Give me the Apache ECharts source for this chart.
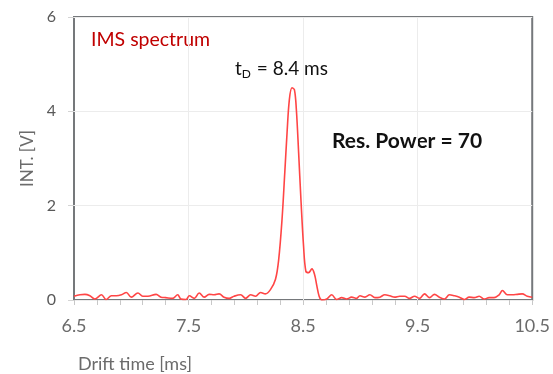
<!DOCTYPE html>
<html>
<head>
<meta charset="utf-8">
<script src="https://cdn.jsdelivr.net/npm/echarts@6/dist/echarts.min.js"></script>
<style>
  html, body { margin: 0; padding: 0; background: #fff; }
  #chart { width: 553px; height: 374px; }
</style>
</head>
<body>
<div id="chart"></div>
<script>
// drift time (ms) and intensity (V)
const driftTime = [
  6.50, 6.552, 6.595, 6.639, 6.682, 6.74, 6.78, 6.827, 6.87, 6.914,
  6.957, 7.00, 7.058, 7.10, 7.145, 7.217, 7.26, 7.30, 7.36, 7.405,
  7.434, 7.478, 7.507, 7.55, 7.593, 7.637, 7.68, 7.723, 7.767, 7.81,
  7.854, 7.897, 7.955, 7.998, 8.042, 8.085, 8.129, 8.17, 8.215, 8.259,
  8.287, 8.316, 8.34, 8.36, 8.38, 8.403, 8.424, 8.441, 8.461, 8.481,
  8.504, 8.524, 8.548, 8.577, 8.60, 8.62, 8.64, 8.663, 8.707, 8.75,
  8.793, 8.837, 8.88, 8.923, 8.967, 8.996, 9.04, 9.083, 9.127, 9.17,
  9.213, 9.257, 9.30, 9.343, 9.387, 9.43, 9.473, 9.517, 9.56, 9.604,
  9.647, 9.69, 9.734, 9.777, 9.82, 9.864, 9.907, 9.95, 9.994, 10.037,
  10.08, 10.124, 10.167, 10.211, 10.24, 10.283, 10.327, 10.37, 10.413, 10.457,
  10.50
];
const intensity = [
  0.08, 0.11, 0.12, 0.09, 0.02, 0.11, 0.01, 0.09, 0.09, 0.11,
  0.16, 0.06, 0.15, 0.08, 0.08, 0.12, 0.06, 0.05, 0.035, 0.11,
  0.02, 0.01, 0.09, 0.035, 0.15, 0.06, 0.12, 0.11, 0.13, 0.06,
  0.035, 0.08, 0.11, 0.035, 0.11, 0.08, 0.16, 0.13, 0.22, 0.44,
  0.86, 1.71, 2.70, 3.55, 4.25, 4.50, 4.46, 4.04, 3.12, 2.13,
  1.14, 0.61, 0.58, 0.66, 0.54, 0.30, 0.08, 0.0, 0.02, 0.11,
  0.01, 0.05, 0.02, 0.06, 0.035, 0.09, 0.06, 0.11, 0.05, 0.06,
  0.11, 0.09, 0.06, 0.08, 0.08, 0.035, 0.08, 0.035, 0.13, 0.05,
  0.12, 0.06, 0.02, 0.11, 0.09, 0.06, 0.01, 0.06, 0.05, 0.08,
  0.02, 0.05, 0.05, 0.11, 0.20, 0.11, 0.11, 0.12, 0.13, 0.08,
  0.06
];

const xLabelValues = [6.5, 7.5, 8.5, 9.5, 10.5];
const xTickValues = [6.5, 6.7, 6.9, 7.1, 7.3, 7.5, 7.7, 7.9, 8.1, 8.3, 8.5,
  8.7, 8.9, 9.1, 9.3, 9.5, 9.7, 9.9, 10.1, 10.3, 10.5];
const xGridValues = [7.5, 8.5, 9.5];
const yTicks = [0, 2, 4, 6];

const FONT = 'Lato, "Open Sans", sans-serif';
const X_MIN = xLabelValues[0];
const X_MAX = xLabelValues[xLabelValues.length - 1];

const chart = echarts.init(document.getElementById('chart'), null, { renderer: 'canvas' });

const option = {
  animation: false,
  grid: {
    left: 74, right: 18, top: 17, bottom: 74,
    show: true,
    borderColor: '#75787b',
    borderWidth: 2,
    backgroundColor: 'transparent'
  },
  xAxis: [
    {
      type: 'value',
      min: X_MIN,
      max: X_MAX,
      axisLine: { show: false },
      axisTick: {
        show: true,
        length: 5,
        customValues: xTickValues,
        lineStyle: { color: '#c8c8c8', width: 1 }
      },
      axisLabel: {
        customValues: xLabelValues,
        margin: 17,
        fontSize: 18,
        color: '#6b6b6b',
        fontFamily: FONT,
        formatter: (v) => v.toFixed(1)
      },
      splitLine: { show: false }
    },
    {
      // only carries the faint vertical grid lines
      type: 'value',
      position: 'bottom',
      min: X_MIN,
      max: X_MAX,
      axisLine: { show: false },
      axisTick: { show: false, customValues: xGridValues },
      axisLabel: { show: false },
      splitLine: { show: true, lineStyle: { color: '#ececec', width: 1 } }
    }
  ],
  yAxis: {
    type: 'value',
    min: yTicks[0],
    max: yTicks[yTicks.length - 1],
    interval: 2,
    name: 'INT. [V]',
    nameLocation: 'middle',
    nameGap: 37,
    nameRotate: 90,
    nameTextStyle: { fontSize: 17, color: '#6b6b6b', fontFamily: FONT },
    axisLine: { show: false },
    axisTick: {
      show: true,
      length: 6,
      lineStyle: { color: '#d4d4d4', width: 1 }
    },
    axisLabel: {
      margin: 18,
      fontSize: 16,
      color: '#595959',
      fontFamily: FONT
    },
    splitLine: { show: true, lineStyle: { color: '#ececec', width: 1 } }
  },
  series: [
    {
      type: 'line',
      xAxisIndex: 0,
      data: driftTime.map((t, i) => [t, intensity[i]]),
      showSymbol: false,
      smooth: 0.35,
      lineStyle: { color: '#ff4545', width: 1.6 },
      z: 3
    }
  ],
  graphic: [
    {
      type: 'text',
      left: 91, top: 30,
      style: { text: 'IMS spectrum', fill: '#c00000', font: '19.5px ' + FONT }
    },
    {
      type: 'text',
      left: 235, top: 58,
      style: {
        text: '{t|t}{s|D}{t| = 8.4 ms}',
        rich: {
          t: { fontSize: 19, fill: '#111', fontFamily: FONT, lineHeight: 22 },
          s: { fontSize: 12, fill: '#111', fontFamily: FONT, padding: [10, 1, 0, 0], lineHeight: 22 }
        }
      }
    },
    {
      type: 'text',
      left: 332, top: 131,
      style: { text: 'Res. Power = 70', fill: '#111', font: 'bold 21px ' + FONT }
    },
    {
      type: 'text',
      left: 78, top: 355,
      style: { text: 'Drift time [ms]', fill: '#6b6b6b', font: '18px ' + FONT }
    }
  ]
};

chart.setOption(option);
</script>
</body>
</html>
